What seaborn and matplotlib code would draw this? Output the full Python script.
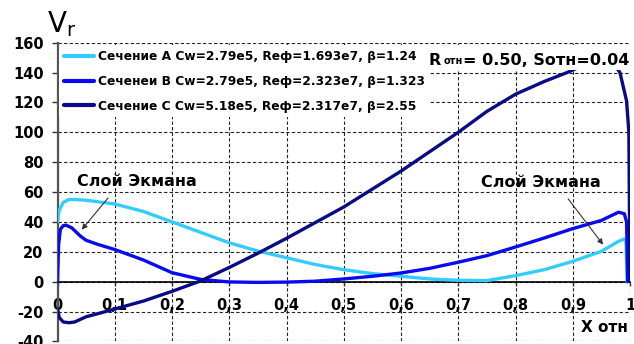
import matplotlib
matplotlib.use("Agg")
import matplotlib.pyplot as plt
import matplotlib.patches as mpatches
import seaborn as sns
import pandas as pd

# Section A (light blue)
x_a = [0.0, 0.003, 0.01, 0.02, 0.03, 0.05, 0.08, 0.1, 0.15, 0.2, 0.25, 0.3,
       0.35, 0.4, 0.45, 0.5, 0.55, 0.6, 0.65, 0.7, 0.75, 0.8, 0.85, 0.9,
       0.95, 0.98, 0.99, 0.993, 0.995]
v_a = [40, 48, 53, 55, 55, 54.5, 53, 52, 47, 40, 33, 26,
       20.5, 16, 11.5, 8, 5.4, 3.6, 1.8, 0.9, 0.7, 4, 8, 13.6,
       20.3, 27, 28.5, 27, 0]

# Section B (blue)
x_b = [0.0, 0.002, 0.005, 0.01, 0.015, 0.025, 0.04, 0.05, 0.07, 0.1, 0.15,
       0.2, 0.25, 0.3, 0.35, 0.4, 0.45, 0.5, 0.55, 0.6, 0.65, 0.7, 0.75,
       0.8, 0.85, 0.9, 0.95, 0.98, 0.99, 0.994, 0.996]
v_b = [0, 25, 35, 37.5, 37.8, 36, 30.5, 27.7, 25, 21.5, 14.5,
       6, 1.5, -0.2, -0.5, -0.3, 0.3, 1.8, 3.6, 5.8, 8.9, 13, 17.4,
       23.2, 29.2, 35.5, 41, 46.5, 45.5, 40, 0]

# Section C (navy)
x_c = [0.0, 0.003, 0.01, 0.02, 0.03, 0.05, 0.07, 0.1, 0.15, 0.2, 0.25, 0.3,
       0.35, 0.4, 0.45, 0.5, 0.55, 0.6, 0.65, 0.7, 0.75, 0.8, 0.85, 0.89,
       0.92, 0.95, 0.97, 0.9825, 0.994, 0.998, 0.999, 1.0]
v_c = [-18, -24, -27, -27.5, -27, -23.5, -21.5, -18.3, -13, -6.5, 0.5, 9.5,
       19, 29, 39.5, 50, 62, 74, 87, 100, 114, 125.5, 134, 140,
       145, 148, 147, 140, 121, 100, 50, 0]

series_labels = [
    "Сечение A Cw=2.79e5, Reф=1.693e7, β=1.24",
    "Сеченеи B Cw=2.79e5, Reф=2.323e7, β=1.323",
    "Сечение C Cw=5.18e5, Reф=2.317e7, β=2.55",
]
series_colors = ["#33CCFF", "#0A0AEE", "#0A0A85"]

x_ticks = [0, 0.1, 0.2, 0.3, 0.4, 0.5, 0.6, 0.7, 0.8, 0.9, 1.0]
x_tick_labels = ["0", "0,1", "0,2", "0,3", "0,4", "0,5", "0,6", "0,7", "0,8", "0,9", "1"]
y_ticks = [-40, -20, 0, 20, 40, 60, 80, 100, 120, 140, 160]
y_tick_labels = ["-40", "-20", "0", "20", "40", "60", "80", "100", "120", "140", "160"]

sns.set_theme(style="white")
plt.rcParams["font.family"] = ["DejaVu Sans"]
plt.rcParams["text.color"] = "black"
plt.rcParams["axes.labelcolor"] = "black"
plt.rcParams["xtick.color"] = "black"
plt.rcParams["ytick.color"] = "black"

fig = plt.figure(figsize=(6.34, 3.44), dpi=100)
ax = fig.add_axes([0.0907, 0.0076, 0.9030, 0.8683])

frames = [
    pd.DataFrame({"x": x_a, "v": v_a}),
    pd.DataFrame({"x": x_b, "v": v_b}),
    pd.DataFrame({"x": x_c, "v": v_c}),
]
for df, lab, col in zip(frames, series_labels, series_colors):
    sns.lineplot(data=df, x="x", y="v", ax=ax, color=col, linewidth=2.4,
                 label=lab, sort=False, estimator=None, zorder=3)

ax.set_xlim(0, 1.0)
ax.set_ylim(-40, 160)
ax.set_xticks(x_ticks)
ax.set_xticklabels(x_tick_labels)
ax.set_yticks(y_ticks)
ax.set_yticklabels(y_tick_labels)

# dashed grid
ax.grid(True, color="#222222", linestyle=(0, (3, 2)), linewidth=0.8, zorder=0)
ax.set_axisbelow(True)

# spines: left solid grey, x axis on the zero line
ax.spines["top"].set_visible(False)
ax.spines["right"].set_visible(False)
ax.spines["left"].set_color("#555555")
ax.spines["left"].set_linewidth(1.6)
ax.spines["bottom"].set_position(("data", 0))
ax.spines["bottom"].set_color("black")
ax.spines["bottom"].set_linewidth(1.2)
ax.spines["bottom"].set_zorder(2.5)

ax.tick_params(axis="y", direction="out", length=4, width=1, color="#333333",
               labelsize=10.5, pad=6, left=True, labelcolor="black")
ax.tick_params(axis="x", direction="out", length=3, width=1, color="#333333",
               labelsize=10.5, pad=9, bottom=True, labelcolor="black")
for lbl in ax.get_xticklabels() + ax.get_yticklabels():
    lbl.set_fontweight("bold")

# axis titles
ax.set_xlabel("X отн", fontsize=11, fontweight="bold", color="black")
ax.xaxis.set_label_coords(0.997, 0.045)
ax.xaxis.label.set_ha("right")
ax.xaxis.label.set_va("center")

ax.set_ylabel(r"V$_{\mathregular{r}}$", fontsize=20, rotation=0, color="black")
ax.yaxis.set_label_coords(0.008, 1.062)
ax.yaxis.label.set_ha("center")
ax.yaxis.label.set_va("center")

# legend
leg = ax.legend(loc="upper left", bbox_to_anchor=(0.0, 0.995), borderaxespad=0.1,
                prop={"weight": "bold", "size": 8.8}, handlelength=2.5,
                handletextpad=0.3, labelspacing=0.95, borderpad=0.4,
                frameon=True, fancybox=False, framealpha=1.0)
leg.get_frame().set_facecolor("white")
leg.get_frame().set_edgecolor("none")
for h in leg.get_lines():
    h.set_linewidth(3)
for t in leg.get_texts():
    t.set_color("black")
leg.set_zorder(5)

# parameter box
ax.add_patch(mpatches.Rectangle((0.645, 0.907), 0.36, 0.086, transform=ax.transAxes,
                                facecolor="white", edgecolor="none", zorder=5,
                                clip_on=False))
t1 = ax.text(0.6475, 145.3, "R", fontsize=11.5, fontweight="bold", ha="left",
             va="baseline", zorder=7)
t2 = ax.annotate("отн", xy=(1, 0), xycoords=t1, xytext=(2.5, 1.2),
                 textcoords="offset points", fontsize=7, fontweight="bold",
                 ha="left", va="bottom", zorder=7)
t3 = ax.annotate("= 0.50, Sотн=0.04", xy=(1, 0), xycoords=(t2, t1),
                 xytext=(0, 0), textcoords="offset points", fontsize=11.5,
                 fontweight="bold", ha="left", va="bottom", zorder=7)

# Ekman layer labels and arrows
ax.text(0.139, 67, "Слой Экмана", fontsize=11.5, fontweight="bold",
        ha="center", va="center", zorder=6)
ax.annotate("", xy=(0.0423, 34.8), xytext=(0.0882, 56),
            arrowprops=dict(arrowstyle="-|>", color="#333333", lw=0.8,
                            mutation_scale=8, shrinkA=0, shrinkB=0), zorder=6)
ax.text(0.845, 66.6, "Слой Экмана", fontsize=11.5, fontweight="bold",
        ha="center", va="center", zorder=6)
ax.annotate("", xy=(0.953, 24.8), xytext=(0.892, 55.4),
            arrowprops=dict(arrowstyle="-|>", color="#333333", lw=0.8,
                            mutation_scale=8, shrinkA=0, shrinkB=0), zorder=6)

fig.savefig("out.png", dpi=100)
